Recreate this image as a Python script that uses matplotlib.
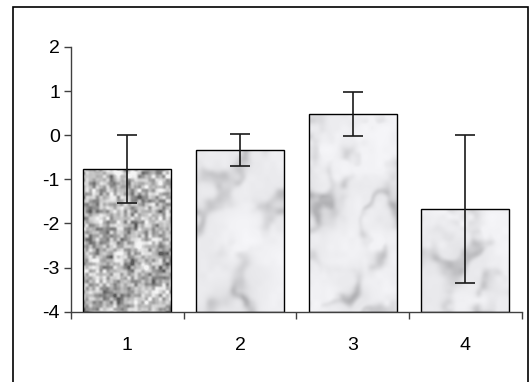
import numpy as np
import matplotlib
matplotlib.use("Agg")
import matplotlib.pyplot as plt
from matplotlib.patches import Rectangle

categories = ["1", "2", "3", "4"]
values = [-0.77, -0.33, 0.48, -1.68]
errors = [0.77, 0.36, 0.49, 1.68]
y_ticks = [-4, -3, -2, -1, 0, 1, 2]

plt.rcParams['font.family'] = ['Liberation Sans', 'DejaVu Sans']

fig = plt.figure(figsize=(5.31, 3.82), dpi=100)
ax = fig.add_axes([0.1337, 0.184, 0.8488, 0.693])

# outer frame
fig.patches.append(Rectangle((13/531, -0.05), (528-13)/531, 1.05 - 7/382,
                             transform=fig.transFigure, fill=False,
                             edgecolor='black', linewidth=1.2))

def ihash(ix, iy, k):
    h = (ix.astype(np.uint32) * np.uint32(374761393) +
         iy.astype(np.uint32) * np.uint32(668265263) +
         np.uint32(k) * np.uint32(2246822519))
    h = (h ^ (h >> np.uint32(13))) * np.uint32(1274126177)
    h = h ^ (h >> np.uint32(16))
    return (h & np.uint32(0xFFFFFF)).astype(float) / float(0xFFFFFF)

def value_noise(h, w, cell, k):
    y, x = np.mgrid[0:h, 0:w].astype(float)
    gx, gy = x / cell, y / cell
    x0, y0 = np.floor(gx), np.floor(gy)
    fx, fy = gx - x0, gy - y0
    fx = fx * fx * (3 - 2 * fx)
    fy = fy * fy * (3 - 2 * fy)
    x0i, y0i = x0.astype(np.int64) + 1000, y0.astype(np.int64) + 1000
    a = ihash(x0i, y0i, k)
    b = ihash(x0i + 1, y0i, k)
    c = ihash(x0i, y0i + 1, k)
    d = ihash(x0i + 1, y0i + 1, k)
    return (a * (1 - fx) + b * fx) * (1 - fy) + (c * (1 - fx) + d * fx) * fy

def norm(a):
    return (a - a.min()) / (a.max() - a.min())

def granite(h, w):
    n = 0.45 * value_noise(h, w, 3.5, 11) + 0.35 * value_noise(h, w, 7, 12) + 0.2 * value_noise(h, w, 16, 13)
    n = norm(n)
    g = 0.36 + 0.60 * np.clip((n - 0.12) / 0.72, 0, 1) ** 0.8
    return np.dstack([g, g, g])

def marble(h, w, k):
    y, x = np.mgrid[0:h, 0:w].astype(float)
    warp = value_noise(h, w, 35, k * 7 + 1) * 2 + value_noise(h, w, 14, k * 7 + 2)
    base = value_noise(h, w, 45, k * 7 + 3) + 0.5 * value_noise(h, w, 18, k * 7 + 4) + 0.3 * value_noise(h, w, 7, k * 7 + 5)
    base = norm(base)
    streak = np.sin((x * 0.8 + y * 0.5) * 0.09 + warp * 3.0)
    d = np.clip(streak * 0.5 + 0.5, 0, 1) ** 3 * np.clip(base * 1.5 - 0.35, 0, 1)
    g = 0.965 - 0.20 * d - 0.07 * base
    return np.dstack([g, g, np.clip(g + 0.012, 0, 1)])

x = np.arange(1, len(categories) + 1)
bars = ax.bar(x, np.array(values) - (-4), bottom=-4, width=0.78,
              color='#e8e8ec', edgecolor='black', linewidth=1.0, zorder=2)

for i, b in enumerate(bars):
    x0, y0 = b.get_x(), b.get_y()
    w, h = b.get_width(), b.get_height()
    wp = 88
    hp = int(round(h * 44.3))
    tex = granite(hp, wp) if i == 0 else marble(hp, wp, i)
    im = ax.imshow(tex, extent=[x0, x0 + w, y0, y0 + h], aspect='auto',
                   interpolation='bilinear', zorder=2.1)
    im.set_clip_path(b)
    b.set_zorder(2.2)
    b.set_facecolor('none')

ax.errorbar(x, values, yerr=errors, fmt='none', ecolor='#1a1a1a',
            elinewidth=1.2, capsize=7, capthick=1.2, zorder=3)

ax.set_xlim(0.5, 4.5)
ax.set_ylim(-4, 2)
ax.set_yticks(y_ticks)
ax.set_yticklabels([str(t) for t in y_ticks])
ax.set_xticks(x)
ax.set_xticklabels(categories)
ax.set_xticks([0.5, 1.5, 2.5, 3.5, 4.5], minor=True)
ax.tick_params(axis='x', which='major', length=0, pad=18, labelsize=14)
ax.tick_params(axis='x', which='minor', length=5, width=1, color='#404040', direction='out')
ax.tick_params(axis='y', length=5, width=1, color='#404040', pad=3, labelsize=14)

for s in ['top', 'right']:
    ax.spines[s].set_visible(False)
for s in ['left', 'bottom']:
    ax.spines[s].set_color('#404040')
    ax.spines[s].set_linewidth(1.0)
ax.spines['bottom'].set_zorder(4)

fig.savefig('out.png', dpi=100)
